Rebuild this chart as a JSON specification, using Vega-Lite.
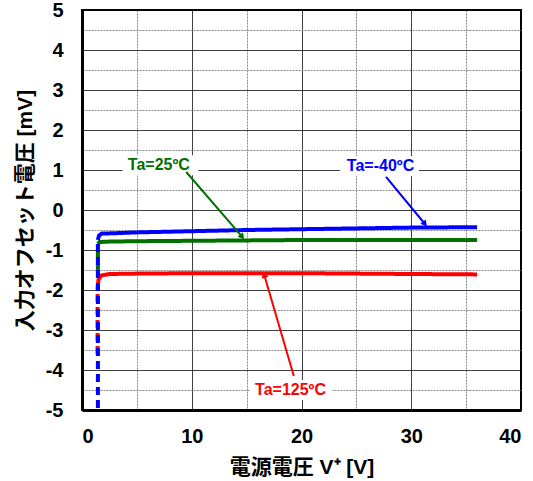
{
  "$schema": "https://vega.github.io/schema/vega-lite/v6.json",
  "width": 439,
  "height": 400,
  "autosize": "none",
  "padding": {"left": 82, "top": 10, "right": 12, "bottom": 71},
  "background": "white",
  "config": {
    "view": {"stroke": "black", "strokeWidth": 2},
    "axis": {
      "labelFont": "Liberation Sans",
      "labelFontWeight": "bold",
      "labelFontSize": 20,
      "labelColor": "black",
      "labelOverlap": false,
      "titleFont": "Liberation Sans, Noto Sans CJK JP",
      "titleFontWeight": "bold",
      "titleFontSize": 21,
      "titleColor": "black",
      "ticks": false,
      "tickSize": 0,
      "domainColor": "black",
      "domainWidth": 3,
      "gridWidth": 1
    }
  },
  "datasets": {
    "curves": [
      {"series": "125", "part": "dash", "i": 1, "x": 1.42, "y": -3.6},
      {"series": "125", "part": "dash", "i": 2, "x": 1.42, "y": -1.95},
      {"series": "125", "part": "solid", "i": 1, "x": 1.42, "y": -1.95},
      {"series": "125", "part": "solid", "i": 2, "x": 1.5, "y": -1.75},
      {"series": "125", "part": "solid", "i": 3, "x": 1.7, "y": -1.64},
      {"series": "125", "part": "solid", "i": 4, "x": 2.5, "y": -1.6},
      {"series": "125", "part": "solid", "i": 5, "x": 5, "y": -1.59},
      {"series": "125", "part": "solid", "i": 6, "x": 10, "y": -1.58},
      {"series": "125", "part": "solid", "i": 7, "x": 20, "y": -1.58},
      {"series": "125", "part": "solid", "i": 8, "x": 30, "y": -1.6},
      {"series": "125", "part": "solid", "i": 9, "x": 36, "y": -1.61},
      {"series": "25", "part": "dash", "i": 1, "x": 1.45, "y": -1.55},
      {"series": "25", "part": "dash", "i": 2, "x": 1.45, "y": -0.85},
      {"series": "25", "part": "solid", "i": 1, "x": 1.45, "y": -0.85},
      {"series": "25", "part": "solid", "i": 2, "x": 1.6, "y": -0.8},
      {"series": "25", "part": "solid", "i": 3, "x": 2.5, "y": -0.79},
      {"series": "25", "part": "solid", "i": 4, "x": 5, "y": -0.78},
      {"series": "25", "part": "solid", "i": 5, "x": 10, "y": -0.77},
      {"series": "25", "part": "solid", "i": 6, "x": 20, "y": -0.75},
      {"series": "25", "part": "solid", "i": 7, "x": 30, "y": -0.75},
      {"series": "25", "part": "solid", "i": 8, "x": 36, "y": -0.75},
      {"series": "-40", "part": "dash", "i": 1, "x": 1.45, "y": -4.95},
      {"series": "-40", "part": "dash", "i": 2, "x": 1.45, "y": -0.75},
      {"series": "-40", "part": "solid", "i": 1, "x": 1.45, "y": -0.75},
      {"series": "-40", "part": "solid", "i": 2, "x": 1.55, "y": -0.64},
      {"series": "-40", "part": "solid", "i": 3, "x": 1.8, "y": -0.59},
      {"series": "-40", "part": "solid", "i": 4, "x": 3, "y": -0.58},
      {"series": "-40", "part": "solid", "i": 5, "x": 5, "y": -0.56},
      {"series": "-40", "part": "solid", "i": 6, "x": 10, "y": -0.53},
      {"series": "-40", "part": "solid", "i": 7, "x": 15, "y": -0.5},
      {"series": "-40", "part": "solid", "i": 8, "x": 20, "y": -0.48},
      {"series": "-40", "part": "solid", "i": 9, "x": 25, "y": -0.46},
      {"series": "-40", "part": "solid", "i": 10, "x": 30, "y": -0.44},
      {"series": "-40", "part": "solid", "i": 11, "x": 36, "y": -0.43}
    ],
    "labels": [
      {"series": "25", "text": "Ta=25ºC", "x": 7.0, "y": 1.12, "bx1": 3.7, "bx2": 10.6, "by1": 1.37, "by2": 0.87, "ax1": 9.5, "ay1": 0.95, "ax2": 14.6, "ay2": -0.67},
      {"series": "-40", "text": "Ta=-40ºC", "x": 27.2, "y": 1.1, "bx1": 23.5, "bx2": 30.7, "by1": 1.35, "by2": 0.85, "ax1": 27.7, "ay1": 0.83, "ax2": 31.25, "ay2": -0.35},
      {"series": "125", "text": "Ta=125ºC", "x": 19.0, "y": -4.5, "bx1": 15.3, "bx2": 22.8, "by1": -4.25, "by2": -4.75, "ax1": 19.3, "ay1": -4.15, "ax2": 16.6, "ay2": -1.62}
    ]
  },
  "layer": [
    {
      "data": {"name": "curves"},
      "mark": {"type": "line", "strokeWidth": 4, "clip": true},
      "encoding": {
        "x": {
          "field": "x", "type": "quantitative",
          "scale": {"domain": [0, 40], "nice": false, "zero": false},
          "axis": {
            "title": "電源電圧 V⁺ [V]",
            "values": [0, 5, 10, 15, 20, 25, 30, 35, 40],
            "tickCount": 20,
            "labelExpr": "datum.value % 10 === 0 ? '' + datum.value : ''",
            "labelPadding": 16,
            "titlePadding": 10,
            "grid": true,
            "gridColor": {"condition": {"test": "datum.value % 10 === 0", "value": "black"}, "value": "#888888"},
            "gridDash": {"condition": {"test": "datum.value % 10 === 0", "value": [1, 0]}, "value": [2, 1]}
          }
        },
        "y": {
          "field": "y", "type": "quantitative",
          "scale": {"domain": [-5, 5], "nice": false, "zero": false},
          "axis": {
            "title": "入力オフセット電圧 [mV]",
            "values": [-5, -4.5, -4, -3.5, -3, -2.5, -2, -1.5, -1, -0.5, 0, 0.5, 1, 1.5, 2, 2.5, 3, 3.5, 4, 4.5, 5],
            "tickCount": 40,
            "labelExpr": "datum.value % 1 === 0 ? '' + datum.value : ''",
            "labelPadding": 19,
            "titlePadding": 10,
            "grid": true,
            "gridColor": {"condition": {"test": "datum.value % 1 === 0", "value": "black"}, "value": "#888888"},
            "gridDash": {"condition": {"test": "datum.value % 1 === 0", "value": [1, 0]}, "value": [2, 1]}
          }
        },
        "color": {
          "field": "series", "type": "nominal",
          "scale": {"domain": ["-40", "25", "125"], "range": ["#0000FF", "#007000", "#FF0000"]},
          "legend": null
        },
        "strokeDash": {
          "field": "part", "type": "nominal",
          "scale": {"domain": ["dash", "solid"], "range": [[8, 5], [1, 0]]},
          "legend": null
        },
        "detail": {"field": "series"},
        "order": {"field": "i", "type": "quantitative"}
      }
    },
    {
      "data": {"name": "labels"},
      "mark": {"type": "rect", "color": "white"},
      "encoding": {
        "x": {"field": "bx1", "type": "quantitative"},
        "x2": {"field": "bx2"},
        "y": {"field": "by1", "type": "quantitative"},
        "y2": {"field": "by2"}
      }
    },
    {
      "data": {"name": "labels"},
      "mark": {"type": "rule", "strokeWidth": 2},
      "encoding": {
        "x": {"field": "ax1", "type": "quantitative"},
        "x2": {"field": "ax2"},
        "y": {"field": "ay1", "type": "quantitative"},
        "y2": {"field": "ay2"},
        "color": {"field": "series", "type": "nominal"}
      }
    },
    {
      "data": {"name": "labels"},
      "transform": [{"filter": "datum.series === '25'"}],
      "mark": {"type": "point", "shape": "triangle-up", "filled": true, "size": 50, "angle": 141, "opacity": 1},
      "encoding": {
        "x": {"field": "ax2", "type": "quantitative"},
        "y": {"field": "ay2", "type": "quantitative"},
        "color": {"field": "series", "type": "nominal"}
      }
    },
    {
      "data": {"name": "labels"},
      "transform": [{"filter": "datum.series === '-40'"}],
      "mark": {"type": "point", "shape": "triangle-up", "filled": true, "size": 50, "angle": 141, "opacity": 1},
      "encoding": {
        "x": {"field": "ax2", "type": "quantitative"},
        "y": {"field": "ay2", "type": "quantitative"},
        "color": {"field": "series", "type": "nominal"}
      }
    },
    {
      "data": {"name": "labels"},
      "transform": [{"filter": "datum.series === '125'"}],
      "mark": {"type": "point", "shape": "triangle-up", "filled": true, "size": 50, "angle": 344, "opacity": 1},
      "encoding": {
        "x": {"field": "ax2", "type": "quantitative"},
        "y": {"field": "ay2", "type": "quantitative"},
        "color": {"field": "series", "type": "nominal"}
      }
    },
    {
      "data": {"name": "labels"},
      "mark": {"type": "text", "font": "Liberation Sans", "fontWeight": "bold", "fontSize": 16, "align": "center", "baseline": "middle"},
      "encoding": {
        "x": {"field": "x", "type": "quantitative"},
        "y": {"field": "y", "type": "quantitative"},
        "text": {"field": "text"},
        "color": {"field": "series", "type": "nominal"}
      }
    }
  ]
}
